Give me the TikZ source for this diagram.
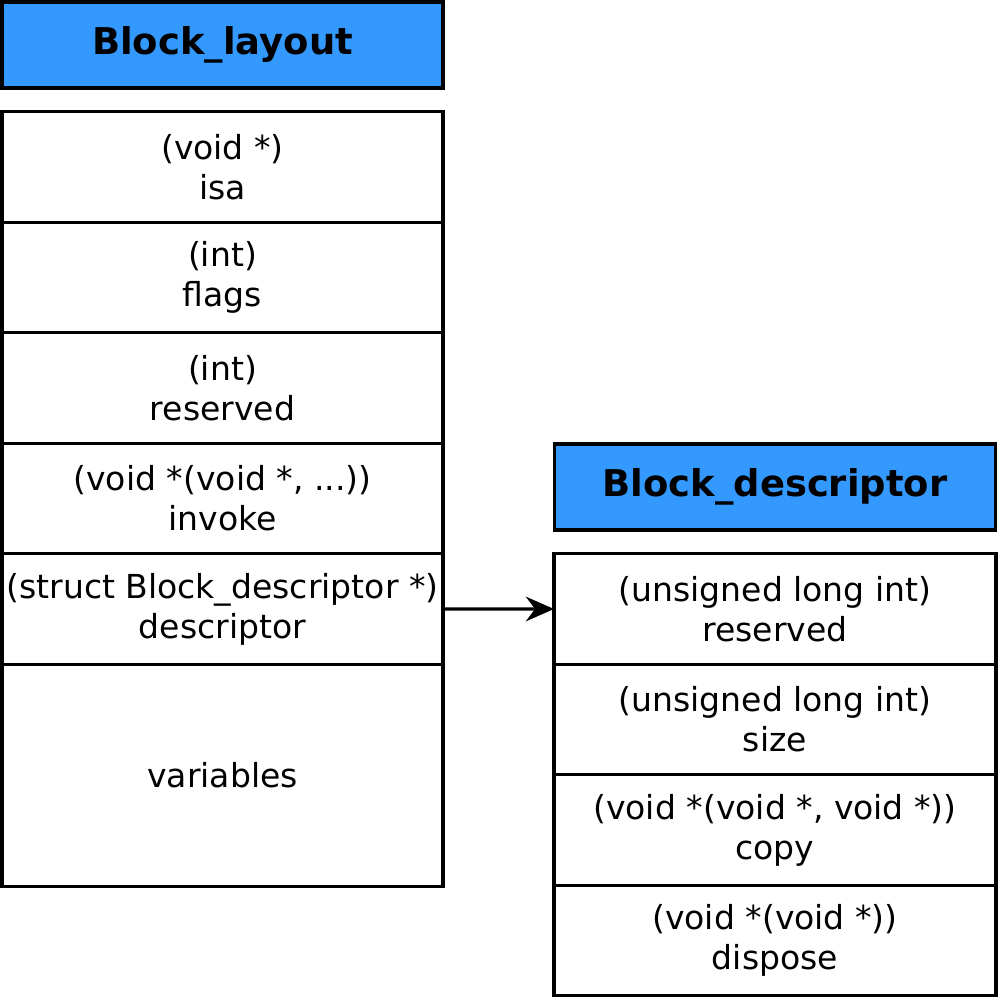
\documentclass[tikz,border=0pt]{standalone}
\usepackage{fontspec}
\setmainfont{DejaVu Sans}
\usetikzlibrary{positioning, arrows.meta}
\definecolor{titleblue}{RGB}{51,153,255}

\begin{document}
\begin{tikzpicture}[
                >={Stealth[length=8pt,width=7pt]},
                field/.style={draw, line width=0.9pt, outer sep=0pt, inner xsep=0.5pt, minimum width=4.41cm, minimum height=1.105cm, align=center, font=\fontsize{9.4}{11.4}\selectfont},
                title/.style={field, fill=titleblue, minimum height=0.86cm, font=\fontsize{10.5}{12}\selectfont\bfseries},
            ]
                \useasboundingbox (0,0) rectangle (10,-10);

                % Draw the Block_layout struct
                \node[title] (lay-title) at (2.225,-0.45) {Block\_layout};
                \foreach \n / \txt in {1/{(void *)\\isa}, 2/{(int)\\flags}, 3/{(int)\\reserved},
                                       4/{(void *(void *, ...))\\invoke},
                                       5/{(struct Block\_descriptor *)\\descriptor}}
                    \node[field] (lay-\n) at (2.225,-1.67-1.105*\n+1.105) {\txt};
                \node[field, minimum height=2.22cm, below=0pt of lay-5] (lay-6) {variables};

                % Draw the Block_descriptor struct
                \node[title] (desc-title) at (7.75,-4.87) {Block\_descriptor};
                \foreach \n / \txt in {1/{(unsigned long int)\\reserved}, 2/{(unsigned long int)\\size},
                                       3/{(void *(void *, void *))\\copy},
                                       4/{(void *(void *))\\dispose}}
                    \node[field, minimum width=4.42cm] (desc-\n) at (7.75,-6.09-1.105*\n+1.105) {\txt};

                % Connect the descriptor pointer to its struct
                \draw[->, line width=0.9pt] (lay-5.east) -- (desc-1.west);
            \end{tikzpicture}
\end{document}
